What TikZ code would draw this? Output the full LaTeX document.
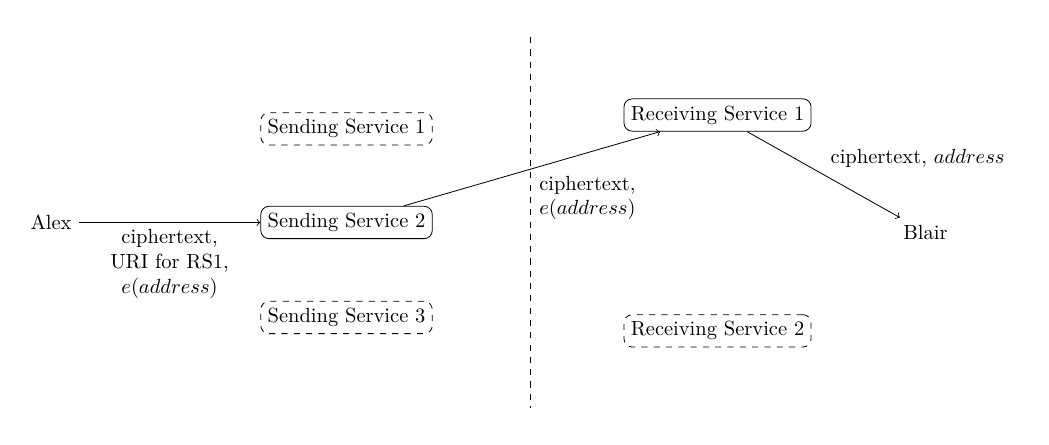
\documentclass[tikz,border=0pt]{standalone}
\usepackage{tikz}

\tikzset{every picture/.style={line width=0.4pt}}
\tikzset{service/.style={draw, rounded corners=4pt}}
\tikzset{idleservice/.style={service, dashed}}

\begin{document}
\begin{tikzpicture}[x=0.75pt,y=0.75pt,yscale=-1,xscale=1]
\useasboundingbox (0,0) rectangle (682.3,288.8);

% Text Node
\node (alex) at (33.2,144.7) {Alex};
% Text Node
\node [idleservice] (ss1) at (225.4,83.8) {Sending Service 1};
% Text Node
\node [service] (ss2) at (225.4,144.7) {Sending Service 2};
% Text Node
\node [idleservice] (ss3) at (225.4,206.5) {Sending Service 3};
% Text Node
\node [service] (rs1) at (466.7,74.8) {Receiving Service 1};
% Text Node
\node [idleservice] (rs2) at (466.7,215.2) {Receiving Service 2};
% Text Node
\node (blair) at (602.0,150.9) {Blair};

%Straight Lines
\coordinate (cuttop) at (344.7,24.1);
\coordinate (cutbot) at (344.7,265.4);
\draw [dashed] (cuttop) -- (cutbot);

%Straight Lines
\draw [->] (alex) -- (ss2) node [midway, below, align=center] {ciphertext,\\URI for RS1,\\$e(address)$};
%Straight Lines
\draw [->] (ss2) -- (rs1) node [midway, below right, align=left] {ciphertext,\\$e(address)$};
%Straight Lines
\draw [->] (rs1) -- (blair) node [midway, above right] {ciphertext, $address$};

\end{tikzpicture}
\end{document}
